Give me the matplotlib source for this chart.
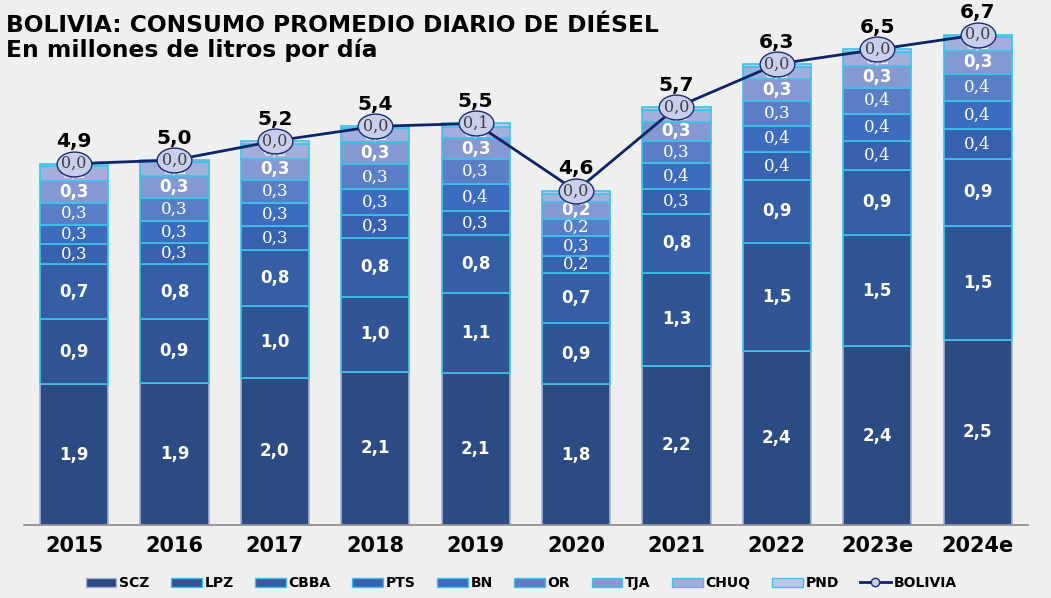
import numpy as np
import matplotlib
matplotlib.use("Agg")
import matplotlib.pyplot as plt
from matplotlib.path import Path
from matplotlib.transforms import Affine2D
from matplotlib.lines import Line2D
from matplotlib.patches import Patch

years = ["2015", "2016", "2017", "2018", "2019", "2020", "2021", "2022", "2023e", "2024e"]

# segment heights (millions of litres/day)
scz  = [1.92, 1.94, 2.01, 2.09, 2.07, 1.92, 2.17, 2.37, 2.44, 2.53]
lpz  = [0.89, 0.87, 0.98, 1.02, 1.09, 0.83, 1.27, 1.48, 1.52, 1.55]
cbba = [0.75, 0.75, 0.76, 0.81, 0.80, 0.69, 0.81, 0.86, 0.89, 0.92]
pts  = [0.27, 0.29, 0.33, 0.31, 0.32, 0.23, 0.33, 0.38, 0.39, 0.40]
bn   = [0.27, 0.30, 0.31, 0.35, 0.38, 0.27, 0.36, 0.36, 0.37, 0.39]
orr  = [0.30, 0.31, 0.32, 0.34, 0.33, 0.24, 0.30, 0.34, 0.36, 0.37]
tja  = [0.30, 0.30, 0.29, 0.30, 0.29, 0.23, 0.26, 0.29, 0.29, 0.31]
chuq = [0.20, 0.20, 0.20, 0.20, 0.15, 0.11, 0.17, 0.17, 0.19, 0.19]
pnd  = [0.03, 0.02, 0.04, 0.02, 0.05, 0.04, 0.03, 0.04, 0.04, 0.03]
bolivia = [4.93, 4.98, 5.24, 5.44, 5.48, 4.56, 5.70, 6.29, 6.49, 6.69]

# data labels as printed in the chart
scz_lbl  = ["1,9", "1,9", "2,0", "2,1", "2,1", "1,8", "2,2", "2,4", "2,4", "2,5"]
lpz_lbl  = ["0,9", "0,9", "1,0", "1,0", "1,1", "0,9", "1,3", "1,5", "1,5", "1,5"]
cbba_lbl = ["0,7", "0,8", "0,8", "0,8", "0,8", "0,7", "0,8", "0,9", "0,9", "0,9"]
pts_lbl  = ["0,3", "0,3", "0,3", "0,3", "0,3", "0,2", "0,3", "0,4", "0,4", "0,4"]
bn_lbl   = ["0,3", "0,3", "0,3", "0,3", "0,4", "0,3", "0,4", "0,4", "0,4", "0,4"]
or_lbl   = ["0,3", "0,3", "0,3", "0,3", "0,3", "0,2", "0,3", "0,3", "0,4", "0,4"]
tja_lbl  = ["0,3", "0,3", "0,3", "0,3", "0,3", "0,2", "0,3", "0,3", "0,3", "0,3"]
chuq_lbl = ["0,2", "0,2", "0,2", "0,2", "0,2", "0,1", "0,2", "0,2", "0,2", "0,2"]
pnd_lbl  = ["0,0", "0,0", "0,0", "0,0", "0,1", "0,0", "0,0", "0,0", "0,0", "0,0"]

names = ["SCZ", "LPZ", "CBBA", "PTS", "BN", "OR", "TJA", "CHUQ", "PND"]
series = [scz, lpz, cbba, pts, bn, orr, tja, chuq, pnd]
labels = [scz_lbl, lpz_lbl, cbba_lbl, pts_lbl, bn_lbl, or_lbl, tja_lbl, chuq_lbl, pnd_lbl]
colors = ["#2c4b83", "#315594", "#355ea5", "#3862b0", "#3d6bbd", "#5a7ec6",
          "#8499d2", "#a2aedb", "#b9c7ea"]
edges = ["#a4b2d6"] + ["#3cc3ea"] * 8
SANS = "DejaVu Sans"
SERIF = "DejaVu Serif"
# label style per series: (family, weight, size, color)
lstyle = [(SANS, "bold", 12, "white"), (SANS, "bold", 12, "white"), (SANS, "bold", 12, "white"),
          (SERIF, "normal", 12, "white"), (SERIF, "normal", 12, "white"),
          (SERIF, "normal", 12, "white"), (SANS, "bold", 12, "white"),
          (SERIF, "normal", 10.5, "#eef0fa"), (SERIF, "normal", 11.5, "#404040")]

BG = "#efefef"
fig = plt.figure(figsize=(10.51, 5.98), dpi=100, facecolor=BG)
ax = fig.add_axes([0.0227, 0.1221, 0.9553, 0.870])
ax.set_facecolor(BG)

x = np.arange(len(years))
bottom = np.zeros(len(years))
for i, (vals, nm) in enumerate(zip(series, names)):
    vals = np.array(vals)
    ax.bar(x, vals, 0.68, bottom=bottom, color=colors[i], edgecolor=edges[i],
           linewidth=1.2, label=nm, zorder=2)
    fam, wt, sz, col = lstyle[i]
    if i < 8:
        for xi, b, v, t in zip(x, bottom, vals, labels[i]):
            ax.text(xi, b + v / 2, t, ha="center", va="center", family=fam,
                    weight=wt, fontsize=sz, color=col, zorder=3)
    bottom = bottom + vals

# BOLIVIA line with elliptic markers
ell = Path.unit_circle().transformed(Affine2D().scale(1.4, 1.0))
ax.plot(x, bolivia, color="#0c2468", linewidth=2.0, zorder=4,
        marker=ell, markersize=25, markerfacecolor="#c9cfea",
        markeredgecolor="#1b2f6e", markeredgewidth=1.0)
for xi, yv, t in zip(x, bolivia, pnd_lbl):
    fam, wt, sz, col = lstyle[8]
    ax.text(xi, yv, t, ha="center", va="center", family=fam, weight=wt,
            fontsize=sz, color=col, zorder=5)
for xi, yv in zip(x, bolivia):
    ax.text(xi, yv + 0.30, f"{yv:.1f}".replace(".", ","), ha="center", va="center",
            family=SANS, weight="bold", fontsize=14.5, color="black", zorder=5)

ax.set_xlim(-0.5, 9.5)
ax.set_ylim(0, 7.1)
ax.set_yticks([])
ax.set_xticks(x)
ax.set_xticklabels(years, family=SANS, weight="bold", fontsize=15)
ax.tick_params(axis="x", length=0, pad=8)
for s in ["top", "right", "left"]:
    ax.spines[s].set_visible(False)
ax.spines["bottom"].set_color("#8a8a8a")
ax.spines["bottom"].set_linewidth(1.2)

handles = [Patch(facecolor=colors[i], edgecolor=edges[i], linewidth=1.0) for i in range(9)]
handles.append(Line2D([0], [0], color="#0c2468", linewidth=2, marker="o", markersize=6,
                      markerfacecolor="#c9cfea", markeredgecolor="#1b2f6e"))
leg = fig.legend(handles, names + ["BOLIVIA"], loc="center", bbox_to_anchor=(0.496, 0.025),
                 ncol=10, frameon=False, prop={"family": SANS, "weight": "bold", "size": 10},
                 handlelength=2.2, handleheight=0.6, handletextpad=0.2, columnspacing=1.55)

fig.text(0.006, 0.958, "BOLIVIA: CONSUMO PROMEDIO DIARIO DE DIÉSEL", family=SANS,
         weight="bold", fontsize=16.8, ha="left", va="center")
fig.text(0.006, 0.916, "En millones de litros por día", family=SANS,
         weight="bold", fontsize=16.8, ha="left", va="center")

fig.savefig("out.png", dpi=100, facecolor=BG)
